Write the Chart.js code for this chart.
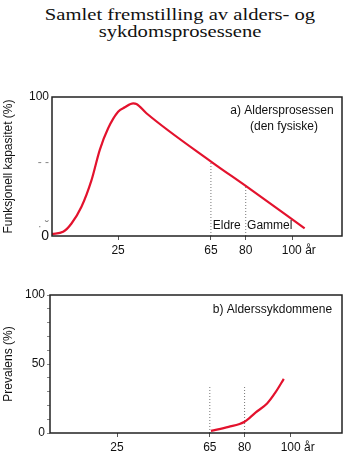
<!DOCTYPE html>
<html>
<head>
<meta charset="utf-8">
<script src="https://cdn.jsdelivr.net/npm/chart.js@4"></script>
<style>
  body { margin: 0; background: #fff; width: 350px; height: 457px; position: relative; overflow: hidden; }
  #title {
    position: absolute; left: 5px; top: 6px; width: 350px;
    text-align: center; font-family: "Liberation Serif", "Times New Roman", serif;
    font-size: 16.5px; line-height: 17px; color: #111;
    transform: scaleX(1.25); transform-origin: 175px 0;
  }
  .box { position: absolute; left: 0; width: 350px; }
  #wrapA { top: 60px; height: 200px; }
  #wrapB { top: 270px; height: 187px; }
</style>
</head>
<body>
<div id="title">Samlet fremstilling av alders- og<br>sykdomsprosessene</div>
<div class="box" id="wrapA"><canvas id="agingChart"></canvas></div>
<div class="box" id="wrapB"><canvas id="diseaseChart"></canvas></div>

<script>
// a) functional capacity over age
var agesA = [-3.5, 1.3, 4.9, 9.2, 13.5, 17.1, 20.7, 25, 27.9, 31.5, 32.9, 37.2, 65.5, 80, 105.4];
var capacity = [1.5, 3, 9, 21, 40, 62, 77.5, 89.4, 92.6, 95.4, 95, 88.3, 53, 36, 5.5];

// b) prevalence of age-related disease
var agesB = [65.5, 73.1, 80, 84.7, 89.7, 93.3, 96.9];
var prevalence = [1.5, 4.4, 8.2, 14.8, 21.4, 29.4, 39.2];

// age limits "Eldre" / "Gammel" and how high their dotted lines reach
var markerAges = [65, 80];
var markerTopA = [53, 36];
var markerTopB = [34, 34];

var xTicks = [25, 65, 80, 100];
var xTickLabels = ['25', '65', '80', '    100 år'];
var yTicksA = [0, 7, 52.5, 100];
var yTickLabelsA = ['0', '· ˘', '- -', '100'];
var yTicksB = [0, 10, 20, 30, 40, 50, 60, 70, 80, 90, 100];
var yTickLabelsB = ['0', '', '', '', '', '50', '', '', '', '', '100'];

var RED = '#e3122d';
var FONT = "'Liberation Sans', Arial, sans-serif";

Chart.defaults.font.family = FONT;
Chart.defaults.color = '#111';

function points(xs, ys) {
    return xs.map(function (x, i) { return { x: x, y: ys[i] }; });
}

function markerSets(tops) {
    return markerAges.map(function (age, i) {
        return {
            data: [{ x: age, y: 0 }, { x: age, y: tops[i] }],
            borderColor: '#777',
            borderWidth: 1,
            borderDash: [1, 2],
            pointRadius: 0,
            tension: 0
        };
    });
}

// frame round the plot area
var framePlugin = {
    id: 'frame',
    afterDatasetsDraw: function (chart) {
        var a = chart.chartArea, ctx = chart.ctx;
        ctx.save();
        ctx.strokeStyle = '#222';
        ctx.lineWidth = 1.5;
        ctx.strokeRect(a.left, a.top, a.right - a.left, a.bottom - a.top);
        ctx.restore();
    }
};

// text notes placed in data units
function notesPlugin(notes) {
    return {
        id: 'notes',
        afterDraw: function (chart) {
            var ctx = chart.ctx, xs = chart.scales.x, ys = chart.scales.y;
            ctx.save();
            ctx.font = '12px ' + FONT;
            ctx.fillStyle = '#111';
            ctx.textBaseline = 'middle';
            notes.forEach(function (n) {
                ctx.textAlign = n.align;
                ctx.fillText(n.text, xs.getPixelForValue(n.x), ys.getPixelForValue(n.y));
            });
            ctx.restore();
        }
    };
}

function xScale(min, max) {
    return {
        type: 'linear', min: min, max: max,
        afterFit: function (s) { s.height = 24; },
        afterBuildTicks: function (s) { s.ticks = xTicks.map(function (v) { return { value: v }; }); },
        ticks: {
            font: { size: 12 }, padding: 3, maxRotation: 0, autoSkip: false,
            callback: function (v) { return xTickLabels[xTicks.indexOf(v)]; }
        },
        grid: { drawOnChartArea: false, tickLength: 4, color: '#555', lineWidth: 1 },
        border: { display: false }
    };
}

function baseOptions() {
    return {
        responsive: true,
        maintainAspectRatio: false,
        animation: false,
        events: [],
        plugins: { legend: { display: false }, tooltip: { enabled: false } }
    };
}

// chart a
var optsA = baseOptions();
optsA.layout = { padding: { top: 37, right: 8, bottom: 0, left: 0 } };
optsA.scales = {
    x: xScale(-3.5, 121.5),
    y: {
        min: 0, max: 100,
        afterFit: function (s) { s.width = 52; },
        afterBuildTicks: function (s) { s.ticks = yTicksA.map(function (v) { return { value: v }; }); },
        ticks: {
            padding: 3,
            font: function (c) { return { size: c.tick && c.tick.value === 0 ? 14 : 12 }; },
            color: function (c) {
                var v = c.tick && c.tick.value;
                return (v === 0 || v === 100) ? '#111' : '#888';
            },
            callback: function (v) { return yTickLabelsA[yTicksA.indexOf(v)]; }
        },
        grid: { display: false, drawTicks: false },
        border: { display: false },
        title: {
            display: true, text: 'Funksjonell kapasitet (%)',
            font: { size: 12 }, padding: { top: 1, bottom: 0 }
        }
    }
};

new Chart(document.getElementById('agingChart'), {
    type: 'line',
    data: {
        datasets: [{
            data: points(agesA, capacity),
            borderColor: RED,
            borderWidth: 2.2,
            pointRadius: 0,
            cubicInterpolationMode: 'monotone'
        }].concat(markerSets(markerTopA))
    },
    options: optsA,
    plugins: [framePlugin, notesPlugin([
        { text: 'a) Aldersprosessen', x: 95.6, y: 90, align: 'center' },
        { text: '(den fysiske)', x: 96.5, y: 79, align: 'center' },
        { text: 'Eldre', x: 65.8, y: 7.2, align: 'left' },
        { text: 'Gammel', x: 80.6, y: 7.2, align: 'left' }
    ])]
});

// chart b
var optsB = baseOptions();
optsB.layout = { padding: { top: 25, right: 8, bottom: 0, left: 0 } };
optsB.scales = {
    x: xScale(-3.9, 122),
    y: {
        min: 0, max: 100,
        afterFit: function (s) { s.width = 50; },
        afterBuildTicks: function (s) { s.ticks = yTicksB.map(function (v) { return { value: v }; }); },
        ticks: {
            padding: 2, font: { size: 12 }, autoSkip: false,
            callback: function (v) { return yTickLabelsB[yTicksB.indexOf(v)]; }
        },
        grid: { drawOnChartArea: false, tickLength: 3, color: '#888' },
        border: { display: false },
        title: {
            display: true, text: 'Prevalens (%)',
            font: { size: 12 }, padding: { top: 1, bottom: 0 }
        }
    }
};

new Chart(document.getElementById('diseaseChart'), {
    type: 'line',
    data: {
        datasets: [{
            data: points(agesB, prevalence),
            borderColor: RED,
            borderWidth: 2.2,
            pointRadius: 0,
            cubicInterpolationMode: 'monotone'
        }].concat(markerSets(markerTopB))
    },
    options: optsB,
    plugins: [framePlugin, notesPlugin([
        { text: 'b) Alderssykdommene', x: 92, y: 89.6, align: 'center' }
    ])]
});
</script>
</body>
</html>
